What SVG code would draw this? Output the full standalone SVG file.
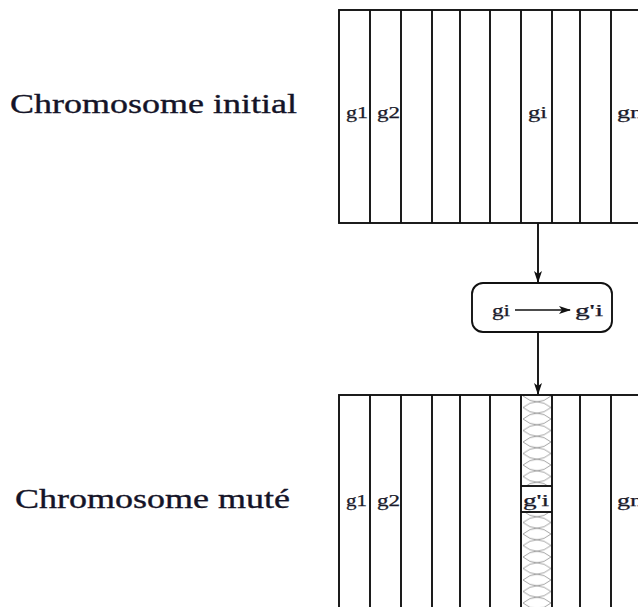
<svg xmlns="http://www.w3.org/2000/svg" width="638" height="607" viewBox="0 0 638 607">
  <style>
    .frame { fill: none; stroke: #111; stroke-width: 1.9; }
    .cell { stroke: #111; stroke-width: 1.9; }
    .title { font-family: "Liberation Serif", "Times New Roman", serif; font-size: 27px; fill: #141428; stroke: #141428; stroke-width: 0.35; }
    .gene { font-family: "Liberation Serif", "Times New Roman", serif; font-size: 16px; fill: #1a1a2a; stroke: #1a1a2a; stroke-width: 0.25; }
    .link { stroke: #111; stroke-width: 1.9; fill: none; }
  </style>
  <defs>
    <marker id="arrow" markerWidth="12" markerHeight="10" refX="11" refY="5" orient="auto" markerUnits="userSpaceOnUse">
      <path d="M0,1 L12,5 L0,9 L3,5 Z" fill="#111"/>
    </marker>
    <pattern id="hatch" patternUnits="userSpaceOnUse" x="522" y="396" width="30" height="11.5">
      <path d="M1,0 Q15,11.5 29,0 M1,11.5 Q15,0 29,11.5" fill="none" stroke="#999" stroke-width="0.9"/>
    </pattern>
  </defs>

  <!-- row captions -->
  <text class="title" x="10" y="113" textLength="287" lengthAdjust="spacingAndGlyphs">Chromosome initial</text>
  <text class="title" x="15" y="508" textLength="275" lengthAdjust="spacingAndGlyphs">Chromosome muté</text>

  <!-- initial chromosome -->
  <g id="chromosome-initial">
    <rect class="frame" x="339" y="10" width="320" height="213"/>
    <g class="cell">
      <line x1="370" y1="10" x2="370" y2="223"/>
      <line x1="401" y1="10" x2="401" y2="223"/>
      <line x1="432" y1="10" x2="432" y2="223"/>
      <line x1="460" y1="10" x2="460" y2="223"/>
      <line x1="490" y1="10" x2="490" y2="223"/>
      <line x1="521" y1="10" x2="521" y2="223"/>
      <line x1="552" y1="10" x2="552" y2="223"/>
      <line x1="580" y1="10" x2="580" y2="223"/>
      <line x1="611" y1="10" x2="611" y2="223"/>
    </g>
    <text class="gene" x="346" y="118" textLength="22" lengthAdjust="spacingAndGlyphs">g1</text>
    <text class="gene" x="377" y="118" textLength="23" lengthAdjust="spacingAndGlyphs">g2</text>
    <text class="gene" x="528" y="118" textLength="19" lengthAdjust="spacingAndGlyphs">gi</text>
    <text class="gene" x="617" y="118" textLength="26" lengthAdjust="spacingAndGlyphs">gn</text>
  </g>

  <!-- mutation operator -->
  <g id="mutation">
    <rect x="472" y="283" width="140" height="49" rx="11" ry="11" fill="#fff" stroke="#111" stroke-width="1.9"/>
    <text class="gene" x="492" y="316" textLength="18" lengthAdjust="spacingAndGlyphs">gi</text>
    <line x1="515" y1="310" x2="570" y2="310" stroke="#111" stroke-width="1.7" marker-end="url(#arrow)"/>
    <text class="gene" x="575" y="316" textLength="28" lengthAdjust="spacingAndGlyphs">g'i</text>
  </g>

  <!-- mutated chromosome -->
  <g id="chromosome-mute">
    <rect x="522" y="395" width="30" height="91" fill="url(#hatch)"/>
    <rect x="522" y="512" width="30" height="100" fill="url(#hatch)"/>
    <rect class="frame" x="339" y="395" width="320" height="230"/>
    <g class="cell">
      <line x1="370" y1="395" x2="370" y2="607"/>
      <line x1="401" y1="395" x2="401" y2="607"/>
      <line x1="432" y1="395" x2="432" y2="607"/>
      <line x1="460" y1="395" x2="460" y2="607"/>
      <line x1="490" y1="395" x2="490" y2="607"/>
      <line x1="521" y1="395" x2="521" y2="607"/>
      <line x1="552" y1="395" x2="552" y2="607"/>
      <line x1="580" y1="395" x2="580" y2="607"/>
      <line x1="611" y1="395" x2="611" y2="607"/>
      <line x1="521" y1="486" x2="552" y2="486"/>
      <line x1="521" y1="512" x2="552" y2="512"/>
    </g>
    <text class="gene" x="346" y="506" textLength="21" lengthAdjust="spacingAndGlyphs">g1</text>
    <text class="gene" x="377" y="506" textLength="23" lengthAdjust="spacingAndGlyphs">g2</text>
    <text class="gene" x="523" y="506" textLength="26" lengthAdjust="spacingAndGlyphs">g'i</text>
    <text class="gene" x="617" y="506" textLength="26" lengthAdjust="spacingAndGlyphs">gn</text>
  </g>

  <!-- connectors -->
  <g id="connectors">
    <line class="link" x1="538" y1="223" x2="538" y2="282" marker-end="url(#arrow)"/>
    <line class="link" x1="538" y1="332" x2="538" y2="394" marker-end="url(#arrow)"/>
  </g>
</svg>
